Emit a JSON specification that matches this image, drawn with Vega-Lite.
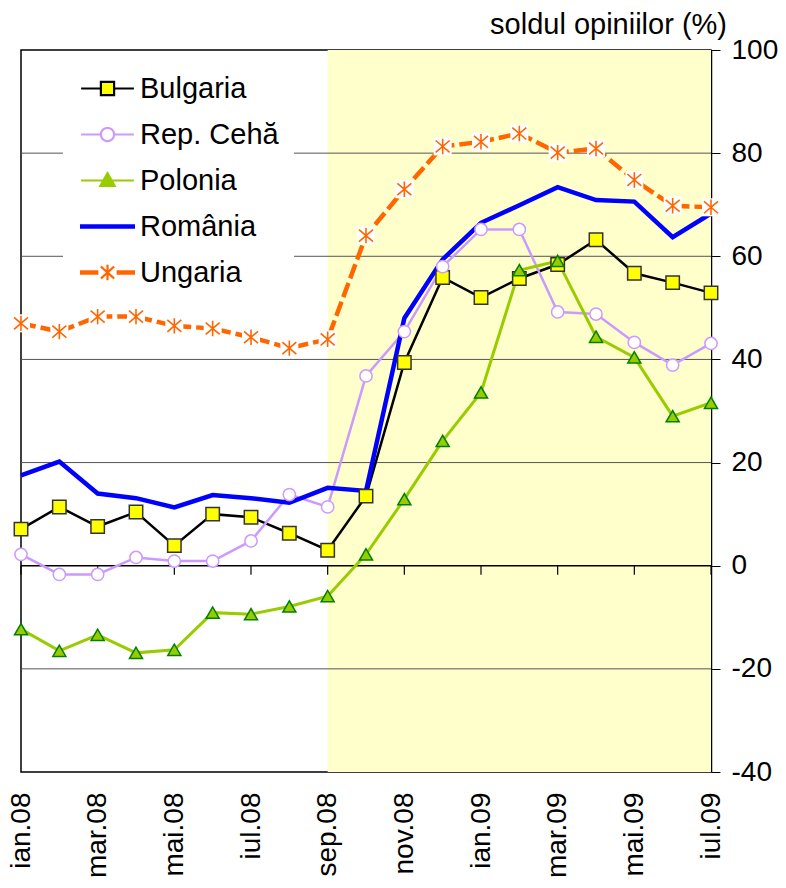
{
  "$schema": "https://vega.github.io/schema/vega-lite/v6.json",
  "width": 690,
  "height": 722,
  "autosize": {"type": "none"},
  "padding": {"left": 21, "top": 50, "right": 75, "bottom": 116},
  "background": "white",
  "title": {
    "text": "soldul opiniilor (%)",
    "anchor": "end",
    "frame": "group",
    "fontSize": 29,
    "font": "Liberation Sans",
    "fontWeight": "normal",
    "color": "black",
    "dx": 16,
    "dy": 8,
    "offset": 4
  },
  "datasets": {
    "series": [
      {"month": "ian.08", "country": "Bulgaria", "value": 7.1},
      {"month": "feb.08", "country": "Bulgaria", "value": 11.4},
      {"month": "mar.08", "country": "Bulgaria", "value": 7.6},
      {"month": "apr.08", "country": "Bulgaria", "value": 10.4},
      {"month": "mai.08", "country": "Bulgaria", "value": 3.9},
      {"month": "iun.08", "country": "Bulgaria", "value": 10.0},
      {"month": "iul.08", "country": "Bulgaria", "value": 9.4},
      {"month": "aug.08", "country": "Bulgaria", "value": 6.3},
      {"month": "sep.08", "country": "Bulgaria", "value": 3.0},
      {"month": "oct.08", "country": "Bulgaria", "value": 13.5},
      {"month": "nov.08", "country": "Bulgaria", "value": 39.4},
      {"month": "dec.08", "country": "Bulgaria", "value": 55.9},
      {"month": "ian.09", "country": "Bulgaria", "value": 52.0},
      {"month": "feb.09", "country": "Bulgaria", "value": 55.7},
      {"month": "mar.09", "country": "Bulgaria", "value": 58.4},
      {"month": "apr.09", "country": "Bulgaria", "value": 63.2},
      {"month": "mai.09", "country": "Bulgaria", "value": 56.7},
      {"month": "iun.09", "country": "Bulgaria", "value": 54.9},
      {"month": "iul.09", "country": "Bulgaria", "value": 52.9},
      {"month": "ian.08", "country": "Rep. Cehă", "value": 2.2},
      {"month": "feb.08", "country": "Rep. Cehă", "value": -1.7},
      {"month": "mar.08", "country": "Rep. Cehă", "value": -1.7},
      {"month": "apr.08", "country": "Rep. Cehă", "value": 1.6},
      {"month": "mai.08", "country": "Rep. Cehă", "value": 0.9},
      {"month": "iun.08", "country": "Rep. Cehă", "value": 0.9},
      {"month": "iul.08", "country": "Rep. Cehă", "value": 4.8},
      {"month": "aug.08", "country": "Rep. Cehă", "value": 13.8},
      {"month": "sep.08", "country": "Rep. Cehă", "value": 11.4},
      {"month": "oct.08", "country": "Rep. Cehă", "value": 36.8},
      {"month": "nov.08", "country": "Rep. Cehă", "value": 45.4},
      {"month": "dec.08", "country": "Rep. Cehă", "value": 58.0},
      {"month": "ian.09", "country": "Rep. Cehă", "value": 65.2},
      {"month": "feb.09", "country": "Rep. Cehă", "value": 65.2},
      {"month": "mar.09", "country": "Rep. Cehă", "value": 49.2},
      {"month": "apr.09", "country": "Rep. Cehă", "value": 48.8},
      {"month": "mai.09", "country": "Rep. Cehă", "value": 43.3},
      {"month": "iun.09", "country": "Rep. Cehă", "value": 38.9},
      {"month": "iul.09", "country": "Rep. Cehă", "value": 43.1},
      {"month": "ian.08", "country": "Polonia", "value": -12.3},
      {"month": "feb.08", "country": "Polonia", "value": -16.5},
      {"month": "mar.08", "country": "Polonia", "value": -13.4},
      {"month": "apr.08", "country": "Polonia", "value": -16.9},
      {"month": "mai.08", "country": "Polonia", "value": -16.3},
      {"month": "iun.08", "country": "Polonia", "value": -9.1},
      {"month": "iul.08", "country": "Polonia", "value": -9.4},
      {"month": "aug.08", "country": "Polonia", "value": -7.9},
      {"month": "sep.08", "country": "Polonia", "value": -5.9},
      {"month": "oct.08", "country": "Polonia", "value": 2.2},
      {"month": "nov.08", "country": "Polonia", "value": 12.9},
      {"month": "dec.08", "country": "Polonia", "value": 24.2},
      {"month": "ian.09", "country": "Polonia", "value": 33.6},
      {"month": "feb.09", "country": "Polonia", "value": 57.3},
      {"month": "mar.09", "country": "Polonia", "value": 59.1},
      {"month": "apr.09", "country": "Polonia", "value": 44.4},
      {"month": "mai.09", "country": "Polonia", "value": 40.4},
      {"month": "iun.09", "country": "Polonia", "value": 29.0},
      {"month": "iul.09", "country": "Polonia", "value": 31.6},
      {"month": "ian.08", "country": "România", "value": 17.5},
      {"month": "feb.08", "country": "România", "value": 20.2},
      {"month": "mar.08", "country": "România", "value": 14.0},
      {"month": "apr.08", "country": "România", "value": 13.1},
      {"month": "mai.08", "country": "România", "value": 11.3},
      {"month": "iun.08", "country": "România", "value": 13.7},
      {"month": "iul.08", "country": "România", "value": 13.1},
      {"month": "aug.08", "country": "România", "value": 12.2},
      {"month": "sep.08", "country": "România", "value": 15.1},
      {"month": "oct.08", "country": "România", "value": 14.5},
      {"month": "nov.08", "country": "România", "value": 48.0},
      {"month": "dec.08", "country": "România", "value": 59.4},
      {"month": "ian.09", "country": "România", "value": 66.5},
      {"month": "feb.09", "country": "România", "value": 69.9},
      {"month": "mar.09", "country": "România", "value": 73.4},
      {"month": "apr.09", "country": "România", "value": 70.9},
      {"month": "mai.09", "country": "România", "value": 70.6},
      {"month": "iun.09", "country": "România", "value": 63.7},
      {"month": "iul.09", "country": "România", "value": 68.3},
      {"month": "ian.08", "country": "Ungaria", "value": 47.0},
      {"month": "feb.08", "country": "Ungaria", "value": 45.4},
      {"month": "mar.08", "country": "Ungaria", "value": 48.3},
      {"month": "apr.08", "country": "Ungaria", "value": 48.3},
      {"month": "mai.08", "country": "Ungaria", "value": 46.5},
      {"month": "iun.08", "country": "Ungaria", "value": 46.0},
      {"month": "iul.08", "country": "Ungaria", "value": 44.3},
      {"month": "aug.08", "country": "Ungaria", "value": 42.2},
      {"month": "sep.08", "country": "Ungaria", "value": 43.9},
      {"month": "oct.08", "country": "Ungaria", "value": 64.0},
      {"month": "nov.08", "country": "Ungaria", "value": 73.0},
      {"month": "dec.08", "country": "Ungaria", "value": 81.3},
      {"month": "ian.09", "country": "Ungaria", "value": 82.2},
      {"month": "feb.09", "country": "Ungaria", "value": 83.8},
      {"month": "mar.09", "country": "Ungaria", "value": 80.1},
      {"month": "apr.09", "country": "Ungaria", "value": 80.9},
      {"month": "mai.09", "country": "Ungaria", "value": 74.8},
      {"month": "iun.09", "country": "Ungaria", "value": 69.8},
      {"month": "iul.09", "country": "Ungaria", "value": 69.5}
    ],
    "band": [{"start": "sep.08", "end": "iul.09"}],
    "grid": [{"g": -20}, {"g": 20}, {"g": 40}, {"g": 60}, {"g": 80}],
    "zero": [{"g": 0}],
    "ticks": [
      {"month": "ian.08"}, {"month": "mar.08"}, {"month": "mai.08"}, {"month": "iul.08"},
      {"month": "sep.08"}, {"month": "nov.08"}, {"month": "ian.09"}, {"month": "mar.09"},
      {"month": "mai.09"}, {"month": "iul.09"}
    ]
  },
  "layer": [
    {
      "data": {"name": "band"},
      "mark": {"type": "rect", "color": "#FFFFCC"},
      "encoding": {
        "x": {
          "field": "start",
          "type": "ordinal",
          "scale": {
            "type": "point",
            "padding": 0,
            "domain": ["ian.08", "feb.08", "mar.08", "apr.08", "mai.08", "iun.08", "iul.08", "aug.08", "sep.08", "oct.08", "nov.08", "dec.08", "ian.09", "feb.09", "mar.09", "apr.09", "mai.09", "iun.09", "iul.09"]
          },
          "axis": {
            "orient": "bottom",
            "title": null,
            "values": ["ian.08", "mar.08", "mai.08", "iul.08", "sep.08", "nov.08", "ian.09", "mar.09", "mai.09", "iul.09"],
            "labelAngle": -90,
            "labelFontSize": 28,
            "labelFont": "Liberation Sans",
            "labelColor": "black",
            "labelPadding": 20,
            "domain": false,
            "ticks": false,
            "grid": false
          }
        },
        "x2": {"field": "end"}
      }
    },
    {
      "data": {"name": "grid"},
      "mark": {"type": "rule", "color": "#555555", "strokeWidth": 1},
      "encoding": {
        "y": {
          "field": "g",
          "type": "quantitative",
          "scale": {"domain": [-40, 100], "nice": false, "zero": false},
          "axis": {
            "orient": "right",
            "title": null,
            "values": [-40, -20, 0, 20, 40, 60, 80, 100],
            "labelExpr": "datum.value",
            "grid": false,
            "domain": true,
            "domainColor": "black",
            "domainWidth": 1.5,
            "tickColor": "black",
            "tickSize": 9,
            "labelFontSize": 28,
            "labelFont": "Liberation Sans",
            "labelColor": "black",
            "labelAlign": "left",
            "labelPadding": 11
          }
        }
      }
    },
    {
      "data": {"name": "zero"},
      "mark": {"type": "rule", "color": "black", "strokeWidth": 1.5},
      "encoding": {"y": {"field": "g", "type": "quantitative"}}
    },
    {
      "data": {"name": "ticks"},
      "mark": {"type": "rule", "color": "black", "strokeWidth": 1.2, "y2Offset": 9},
      "encoding": {
        "x": {"field": "month", "type": "ordinal"},
        "y": {"datum": 0, "type": "quantitative"},
        "y2": {"datum": 0}
      }
    },
    {
      "data": {"name": "series"},
      "mark": {"type": "line", "opacity": 0},
      "encoding": {
        "x": {"field": "month", "type": "ordinal"},
        "y": {"field": "value", "type": "quantitative"},
        "color": {
          "field": "country",
          "type": "nominal",
          "scale": {
            "domain": ["Bulgaria", "Rep. Cehă", "Polonia", "România", "Ungaria"],
            "range": ["#000000", "#CC99FF", "#99CC00", "#0000FF", "#FF6600"]
          },
          "legend": {
            "orient": "none",
            "legendX": 42,
            "legendY": 9,
            "padding": 15,
            "fillColor": "white",
            "strokeColor": null,
            "title": null,
            "labelFontSize": 29,
            "labelFont": "Liberation Sans",
            "labelColor": "black",
            "labelLimit": 400,
            "symbolSize": 576,
            "symbolOffset": 15,
            "labelOffset": 18,
            "rowPadding": 16,
            "symbolStrokeWidth": 2.2,
            "encode": {
              "symbols": {
                "update": {
                  "shape": [
                    {"test": "datum.value === 'Bulgaria'", "value": "M-2.2,0H-0.55M0.55,0H2.2M-0.55,-0.55H0.55V0.55H-0.55Z"},
                    {"test": "datum.value === 'Rep. Cehă'", "value": "M-2.2,0H-0.55M0.55,0H2.2M0.55,0A0.55,0.55 0 1,1 -0.55,0A0.55,0.55 0 1,1 0.55,0Z"},
                    {"test": "datum.value === 'Polonia'", "value": "M-2.2,0H-0.3M0.3,0H2.2M0,-0.6L0.6,0.45H-0.6Z"},
                    {"test": "datum.value === 'România'", "value": "M-2.2,-0.09H2.2V0.09H-2.2Z"},
                    {"value": "M-2.2,-0.09H-0.85V0.09H-2.2ZM0.85,-0.09H2.2V0.09H0.85ZM-0.55,-0.5L0.55,0.5M-0.55,0.5L0.55,-0.5M0,-0.65V0.65"}
                  ],
                  "fill": [
                    {"test": "datum.value === 'Bulgaria'", "value": "#FFFF00"},
                    {"test": "datum.value === 'Rep. Cehă'", "value": "#FFFFFF"},
                    {"test": "datum.value === 'Polonia'", "value": "#99CC00"},
                    {"test": "datum.value === 'România'", "value": "#0000FF"},
                    {"value": "#FF6600"}
                  ],
                  "stroke": [
                    {"test": "datum.value === 'Bulgaria'", "value": "#000000"},
                    {"test": "datum.value === 'Rep. Cehă'", "value": "#CC99FF"},
                    {"test": "datum.value === 'Polonia'", "value": "#99CC00"},
                    {"test": "datum.value === 'România'", "value": "#0000FF"},
                    {"value": "#FF6600"}
                  ],
                  "strokeDash": {"value": [1, 0]},
                  "opacity": {"value": 1}
                }
              }
            }
          }
        }
      }
    },
    {
      "data": {"name": "series"},
      "transform": [{"filter": "datum.country === 'Bulgaria'"}],
      "mark": {"type": "line", "stroke": "#000000", "strokeWidth": 2.5},
      "encoding": {
        "x": {"field": "month", "type": "ordinal"},
        "y": {"field": "value", "type": "quantitative"}
      }
    },
    {
      "data": {"name": "series"},
      "transform": [{"filter": "datum.country === 'Rep. Cehă'"}],
      "mark": {"type": "line", "stroke": "#CC99FF", "strokeWidth": 2.5},
      "encoding": {
        "x": {"field": "month", "type": "ordinal"},
        "y": {"field": "value", "type": "quantitative"}
      }
    },
    {
      "data": {"name": "series"},
      "transform": [{"filter": "datum.country === 'Polonia'"}],
      "mark": {"type": "line", "stroke": "#99CC00", "strokeWidth": 3},
      "encoding": {
        "x": {"field": "month", "type": "ordinal"},
        "y": {"field": "value", "type": "quantitative"}
      }
    },
    {
      "data": {"name": "series"},
      "transform": [{"filter": "datum.country === 'România'"}],
      "mark": {"type": "line", "stroke": "#0000FF", "strokeWidth": 4.5},
      "encoding": {
        "x": {"field": "month", "type": "ordinal"},
        "y": {"field": "value", "type": "quantitative"}
      }
    },
    {
      "data": {"name": "series"},
      "transform": [{"filter": "datum.country === 'Ungaria'"}],
      "mark": {"type": "line", "stroke": "#FF6600", "strokeWidth": 4.5, "strokeDash": [15, 5]},
      "encoding": {
        "x": {"field": "month", "type": "ordinal"},
        "y": {"field": "value", "type": "quantitative"}
      }
    },
    {
      "data": {"name": "series"},
      "transform": [{"filter": "datum.country === 'Bulgaria'"}],
      "mark": {"type": "point", "shape": "square", "filled": true, "fill": "#FFFF00", "stroke": "#333333", "strokeWidth": 1.5, "size": 180, "opacity": 1},
      "encoding": {
        "x": {"field": "month", "type": "ordinal"},
        "y": {"field": "value", "type": "quantitative"}
      }
    },
    {
      "data": {"name": "series"},
      "transform": [{"filter": "datum.country === 'Rep. Cehă'"}],
      "mark": {"type": "point", "shape": "circle", "filled": true, "fill": "#FFFFFF", "stroke": "#CC99FF", "strokeWidth": 1.5, "size": 150, "opacity": 1},
      "encoding": {
        "x": {"field": "month", "type": "ordinal"},
        "y": {"field": "value", "type": "quantitative"}
      }
    },
    {
      "data": {"name": "series"},
      "transform": [{"filter": "datum.country === 'Polonia'"}],
      "mark": {"type": "point", "shape": "triangle-up", "filled": true, "fill": "#99CC00", "stroke": "#008000", "strokeWidth": 1.5, "size": 170, "opacity": 1},
      "encoding": {
        "x": {"field": "month", "type": "ordinal"},
        "y": {"field": "value", "type": "quantitative"}
      }
    },
    {
      "data": {"name": "series"},
      "transform": [{"filter": "datum.country === 'Ungaria'"}],
      "mark": {"type": "point", "shape": "square", "filled": true, "fill": "#FFFFFF", "strokeWidth": 0, "size": 324, "opacity": 1},
      "encoding": {
        "x": {"field": "month", "type": "ordinal"},
        "y": {"field": "value", "type": "quantitative"}
      }
    },
    {
      "data": {"name": "series"},
      "transform": [{"filter": "datum.country === 'Ungaria'"}],
      "mark": {"type": "point", "shape": "M-1,-0.85L1,0.85M-1,0.85L1,-0.85M0,-1.1V1.1", "filled": false, "stroke": "#FF6600", "strokeWidth": 1.6, "size": 196, "opacity": 1},
      "encoding": {
        "x": {"field": "month", "type": "ordinal"},
        "y": {"field": "value", "type": "quantitative"}
      }
    }
  ],
  "config": {
    "font": "Liberation Sans",
    "view": {"stroke": "black", "strokeWidth": 1.5}
  }
}
